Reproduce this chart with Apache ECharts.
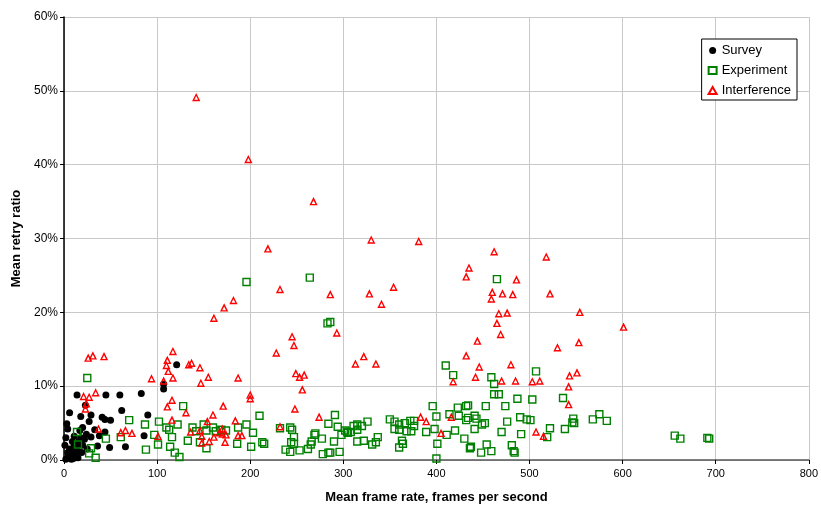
<!DOCTYPE html>
<html>
<head>
<meta charset="utf-8">
<script src="https://cdn.jsdelivr.net/npm/echarts@6/dist/echarts.min.js"></script>
<style>
  html, body { margin: 0; padding: 0; background: #fff; }
  #chart { width: 821px; height: 509px; }
</style>
</head>
<body>
<div id="chart"></div>
<script>
// [frame rate, retry ratio %]
const surveyData = [
  [121, 12.9], [107, 10.3], [107, 9.6], [83, 9.0], [14, 8.8], [45, 8.8], [60, 8.8],
  [23, 7.4], [62, 6.7], [6, 6.4], [18, 5.9], [29, 6.1], [41, 5.8], [44, 5.5], [50, 5.4],
  [90, 6.1], [3, 4.9], [27, 5.2], [20, 4.4], [33, 4.1], [44, 3.8], [4, 4.2], [38, 3.3],
  [86, 3.3], [29, 3.1], [20, 2.9], [36, 1.9], [49, 1.7], [66, 1.8],
  [3, 0.2], [5, 0.5], [7, 0.3], [8, 1.0], [10, 0.8], [12, 1.5], [14, 2.0], [16, 2.5],
  [18, 3.0], [20, 2.0], [6, 1.5], [9, 2.5], [11, 3.2], [4, 1.0], [2, 0.1], [13, 0.4],
  [15, 1.2], [22, 2.8], [24, 3.5], [19, 1.0], [1, 2.0], [2, 3.0], [8, 0.1], [17, 4.0],
  [10, 0.2], [12, 0.6], [6, 0.8], [15, 0.3], [25, 1.5], [11, 2.0]
]
const experimentData = [
  [196, 24.1], [264, 24.7], [465, 24.5], [283, 18.5], [286, 18.7],
  [410, 12.8], [418, 11.5], [459, 11.2], [507, 12.0], [462, 10.3], [462, 8.9], [467, 8.9],
  [487, 8.3], [503, 8.2], [536, 8.4], [396, 7.3], [423, 7.1], [432, 7.3], [434, 7.4],
  [453, 7.3], [474, 7.3], [400, 5.9], [414, 6.2], [424, 6.0], [432, 5.4], [434, 5.7],
  [441, 6.0], [443, 5.6], [449, 4.8], [452, 5.0], [476, 5.2], [490, 5.8], [497, 5.5],
  [398, 4.2], [411, 3.4], [420, 4.0], [441, 4.2], [470, 3.8], [491, 3.5], [430, 2.9],
  [401, 2.2], [437, 1.8], [436, 1.6], [454, 2.1], [459, 1.2], [448, 1.0], [481, 2.0],
  [483, 1.2], [484, 1.0], [400, 0.2],
  [311, 4.6], [315, 4.8], [315, 4.1], [320, 4.6], [326, 5.2], [308, 3.8], [322, 2.6],
  [331, 2.1], [335, 2.4], [337, 3.1], [350, 5.5], [355, 5.2], [355, 4.2], [360, 4.8],
  [360, 4.1], [366, 5.0], [368, 3.9], [372, 5.3], [373, 3.9], [376, 5.3], [376, 4.6],
  [389, 3.8], [363, 2.6], [364, 2.2], [360, 1.7],
  [210, 6.0], [291, 6.1], [128, 7.3], [196, 4.8], [187, 4.4], [284, 4.9], [294, 4.5],
  [304, 3.8], [298, 3.4], [138, 4.4], [142, 3.9], [150, 4.8], [153, 4.0], [160, 4.4],
  [163, 3.9], [169, 4.1], [174, 4.0], [133, 2.6], [146, 2.4], [153, 1.6], [186, 2.2],
  [203, 3.7], [201, 1.8], [213, 2.4], [215, 2.2], [232, 4.3], [243, 4.4], [245, 4.1],
  [247, 3.1], [244, 2.4], [247, 2.2], [238, 1.4], [243, 1.1], [253, 1.3], [262, 1.5],
  [265, 2.1], [266, 2.5], [269, 3.4], [270, 3.6], [277, 2.9], [290, 2.5], [278, 0.8],
  [284, 1.0], [286, 1.0], [296, 1.1], [302, 4.0], [305, 3.7], [315, 2.5], [124, 0.4],
  [25, 11.1], [70, 5.4], [102, 5.2], [87, 4.8], [122, 4.8], [110, 4.4], [113, 4.1],
  [14, 3.8], [45, 2.9], [61, 3.1], [97, 3.4], [116, 3.1], [15, 2.1], [29, 1.6],
  [101, 2.1], [114, 1.8], [88, 1.4], [27, 0.9], [34, 0.3], [119, 1.0],
  [501, 5.4], [547, 5.6], [546, 5.1], [548, 5.0], [568, 5.5], [575, 6.2], [583, 5.3],
  [522, 4.3], [538, 4.2], [519, 3.1], [656, 3.3], [662, 2.9], [691, 3.0], [693, 2.9]
]
const interferenceData = [
  [142, 49.1], [198, 40.7], [268, 35.0], [219, 28.6], [232, 23.1], [286, 22.4],
  [182, 21.6], [172, 20.6], [330, 29.8], [381, 29.6], [462, 28.2], [518, 27.5],
  [435, 26.0], [432, 24.8], [486, 24.4], [328, 22.5], [354, 23.4], [341, 21.1],
  [460, 22.7], [459, 21.8], [471, 22.5], [482, 22.4], [522, 22.5], [467, 19.8],
  [476, 19.9], [554, 20.0], [465, 18.5], [601, 18.0], [469, 17.0], [444, 16.1],
  [553, 15.9], [530, 15.2], [432, 14.1], [322, 14.0], [313, 13.0], [335, 13.0],
  [446, 12.6], [480, 12.9], [442, 11.2], [543, 11.4], [551, 11.8], [418, 10.6],
  [470, 10.7], [485, 10.7], [503, 10.6], [511, 10.7], [542, 9.9], [542, 7.5],
  [507, 3.8], [515, 3.2], [383, 5.8], [389, 5.2], [416, 5.8], [405, 3.6],
  [161, 19.2], [134, 12.9], [137, 13.1], [146, 12.5], [155, 11.2], [147, 10.4],
  [187, 11.1], [200, 8.8], [200, 8.3], [228, 14.5], [245, 16.7], [247, 15.5],
  [293, 17.2], [249, 11.7], [253, 11.2], [258, 11.5], [256, 9.5], [171, 7.3],
  [131, 6.4], [160, 6.1], [248, 6.9], [274, 5.8], [184, 5.3], [154, 5.2],
  [136, 3.8], [146, 4.0], [148, 3.2], [148, 2.3], [156, 2.5], [161, 3.1], [167, 3.7],
  [170, 4.2], [170, 3.5], [174, 3.4], [173, 2.4], [187, 3.3], [191, 3.3], [232, 4.5],
  [26, 13.8], [31, 14.1], [43, 14.0], [117, 14.7], [111, 13.5], [110, 12.8],
  [112, 12.0], [117, 11.1], [94, 11.0], [107, 10.7], [34, 9.1], [21, 8.6], [27, 8.5],
  [24, 7.6], [23, 6.9], [116, 8.1], [111, 7.2], [116, 5.4], [37, 4.2], [61, 3.7],
  [66, 4.0], [73, 3.6], [101, 3.2]
]
const xTicks = { min: 0, max: 800, step: 100 }
const yTicks = { min: 0, max: 60, step: 10 }

const chart = echarts.init(document.getElementById('chart'))
const font = 'Liberation Sans, Arial, sans-serif'

chart.setOption({
  animation: false,
  grid: { left: 64, right: 9, top: 17, bottom: 48, containLabel: false },
  legend: {
    orient: 'vertical',
    right: 24,
    top: 39,
    padding: [5, 6, 3, 6],
    itemGap: 7,
    itemWidth: 8,
    itemHeight: 7,
    borderColor: '#000',
    borderWidth: 1,
    backgroundColor: '#fff',
    textStyle: { fontFamily: font, fontSize: 13, color: '#000' },
    data: ['Survey', 'Experiment', 'Interference']
  },
  xAxis: {
    type: 'value',
    min: xTicks.min,
    max: xTicks.max,
    interval: xTicks.step,
    name: 'Mean frame rate, frames per second',
    nameLocation: 'middle',
    nameGap: 31,
    nameTextStyle: { fontFamily: font, fontSize: 13, fontWeight: 'bold', color: '#000' },
    axisLine: { lineStyle: { color: '#555', width: 1.5 } },
    axisTick: { show: true, length: 4, lineStyle: { color: '#000' } },
    axisLabel: { fontFamily: font, fontSize: 11, color: '#000', margin: 8 },
    splitLine: { show: true, lineStyle: { color: '#c8c8c8', width: 1 } }
  },
  yAxis: {
    type: 'value',
    min: yTicks.min,
    max: yTicks.max,
    interval: yTicks.step,
    name: 'Mean retry ratio',
    nameLocation: 'middle',
    nameGap: 38,
    nameTextStyle: { fontFamily: font, fontSize: 13, fontWeight: 'bold', color: '#000' },
    axisLine: { show: true, lineStyle: { color: '#000', width: 1.5 } },
    axisTick: { show: true, length: 4, lineStyle: { color: '#000' } },
    axisLabel: { fontFamily: font, fontSize: 12, color: '#000', margin: 6, formatter: '{value}%' },
    splitLine: { show: true, lineStyle: { color: '#c8c8c8', width: 1 } }
  },
  series: [
    {
      name: 'Survey',
      type: 'scatter',
      symbol: 'circle',
      symbolSize: 7,
      itemStyle: { color: '#000', opacity: 1 },
      data: surveyData
    },
    {
      name: 'Experiment',
      type: 'scatter',
      symbol: 'rect',
      symbolSize: 7,
      itemStyle: { color: 'rgba(255,255,255,0)', borderColor: '#008000', borderWidth: 1.4, opacity: 1 },
      data: experimentData
    },
    {
      name: 'Interference',
      type: 'scatter',
      symbol: 'triangle',
      symbolSize: 6,
      itemStyle: { color: 'rgba(255,255,255,0)', borderColor: '#ff0000', borderWidth: 1.4, opacity: 1 },
      data: interferenceData
    }
  ]
})
</script>
</body>
</html>
